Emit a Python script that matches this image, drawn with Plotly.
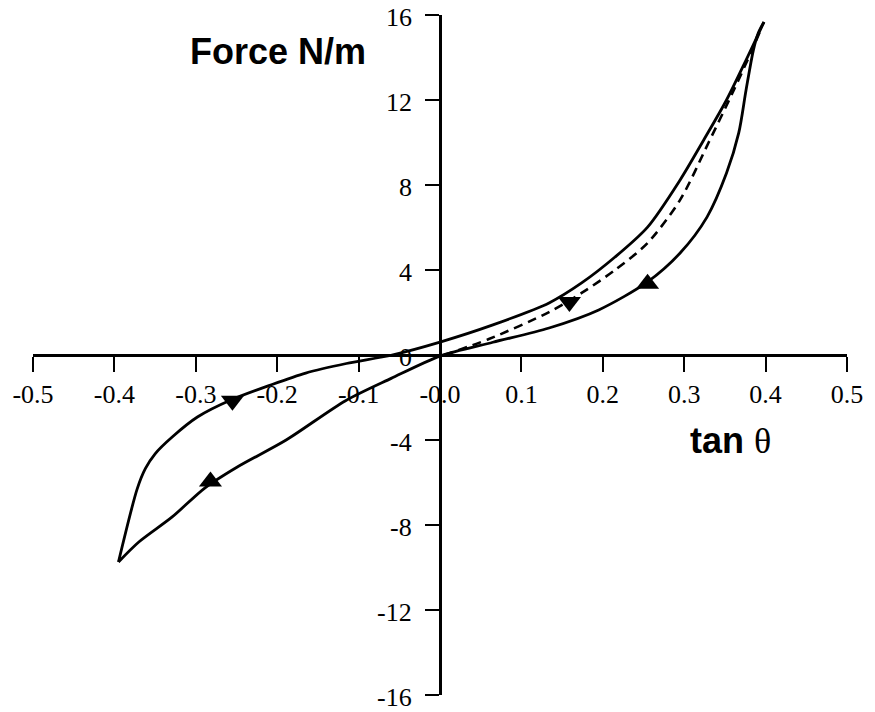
import plotly.graph_objects as go

# Upper (unloading) branch, from the top tip down to the bottom-left tip
upper_x = [0.398, 0.376, 0.352, 0.324, 0.295, 0.255, 0.215, 0.174, 0.134, 0.065, 0.0,
           -0.059, -0.115, -0.165, -0.208, -0.257, -0.298, -0.329, -0.350, -0.362, -0.372, -0.395]
upper_y = [15.67, 13.88, 12.0, 10.12, 8.24, 6.02, 4.61, 3.39, 2.45, 1.42, 0.61,
           0.0, -0.4, -0.85, -1.41, -2.12, -2.92, -3.86, -4.65, -5.35, -6.3, -9.74]

# Lower (loading) branch, from the bottom-left tip up to the top tip
lower_x = [-0.395, -0.370, -0.329, -0.289, -0.249, -0.189, -0.116, -0.06, 0.0, 0.065,
           0.134, 0.195, 0.255, 0.295, 0.328, 0.352, 0.367, 0.376, 0.385, 0.391, 0.398]
lower_y = [-9.74, -8.8, -7.62, -6.26, -5.27, -4.0, -2.15, -1.1, -0.05, 0.6,
           1.27, 2.12, 3.44, 4.8, 6.49, 8.56, 10.45, 12.47, 14.35, 15.15, 15.67]

# Dashed curve from the origin to the top tip
dash_x = [0.005, 0.06, 0.134, 0.174, 0.215, 0.255, 0.295, 0.330, 0.361, 0.385, 0.395]
dash_y = [0.0, 0.75, 2.02, 2.92, 4.0, 5.27, 7.3, 10.0, 12.47, 14.5, 15.4]

# Direction arrows
down_x = [-0.255, 0.159]
down_y = [-2.15, 2.5]
up_x = [-0.282, 0.255]
up_y = [-5.95, 3.35]

x_ticks = [-0.5, -0.4, -0.3, -0.2, -0.1, 0.0, 0.1, 0.2, 0.3, 0.4, 0.5]
x_ticktext = ["-0.5", "-0.4", "-0.3", "-0.2", "-0.1", "-0.0", "0.1", "0.2", "0.3", "0.4", "0.5"]
y_ticks = [-16, -12, -8, -4, 0, 4, 8, 12, 16]
y_ticktext = ["-16", "-12", "-8", "-4", "0", "4", "8", "12", "16"]

fig = go.Figure()
line_style = dict(color="black", width=2.8, shape="spline", smoothing=0.8)
fig.add_trace(go.Scatter(x=upper_x, y=upper_y, mode="lines", line=line_style))
fig.add_trace(go.Scatter(x=lower_x, y=lower_y, mode="lines", line=line_style))
fig.add_trace(go.Scatter(x=dash_x, y=dash_y, mode="lines",
                         line=dict(color="black", width=2.6, dash="9px,6px",
                                   shape="spline", smoothing=0.8)))
fig.add_trace(go.Scatter(x=down_x, y=down_y, mode="markers",
                         marker=dict(symbol="triangle-down", size=20, color="black")))
fig.add_trace(go.Scatter(x=up_x, y=up_y, mode="markers",
                         marker=dict(symbol="triangle-up", size=20, color="black")))

tick_font = dict(family="Liberation Serif", size=26, color="black")

# y tick labels placed through the axis scale, left of the y-axis ticks
y_label_annots = [
    dict(text=t, x=0, y=v, xref="x", yref="y", xanchor="right", yanchor="middle",
         xshift=-26, yshift=-2, showarrow=False, font=tick_font)
    for v, t in zip(y_ticks, y_ticktext)
]

fig.update_layout(
    width=875, height=712,
    margin=dict(l=26, r=23, t=15, b=17),
    paper_bgcolor="white", plot_bgcolor="white",
    showlegend=False,
    xaxis=dict(range=[-0.5, 0.5], anchor="free", position=0.5,
               showline=True, linecolor="black", linewidth=2.8,
               ticks="outside", ticklen=15, tickwidth=2, tickcolor="black",
               tickvals=x_ticks, ticktext=x_ticktext, tickfont=tick_font,
               showgrid=False, zeroline=False),
    yaxis=dict(range=[-16, 16], anchor="free", position=0.5,
               showline=True, linecolor="black", linewidth=2.8,
               ticks="outside", ticklen=14, tickwidth=2, tickcolor="black",
               tickvals=y_ticks, showticklabels=False,
               showgrid=False, zeroline=False),
    annotations=y_label_annots + [
        dict(text="<b>Force N/m</b>", xref="paper", yref="paper",
             x=0.3015, y=0.9456, xanchor="center", yanchor="middle", showarrow=False,
             font=dict(family="Liberation Sans", size=36, color="black")),
        dict(text="<b>tan</b> <span style='font-family:Liberation Serif'>θ</span>",
             xref="paper", yref="paper",
             x=0.857, y=0.375, xanchor="center", yanchor="middle", showarrow=False,
             font=dict(family="Liberation Sans", size=36, color="black")),
    ],
)

fig.write_html("out.html")
